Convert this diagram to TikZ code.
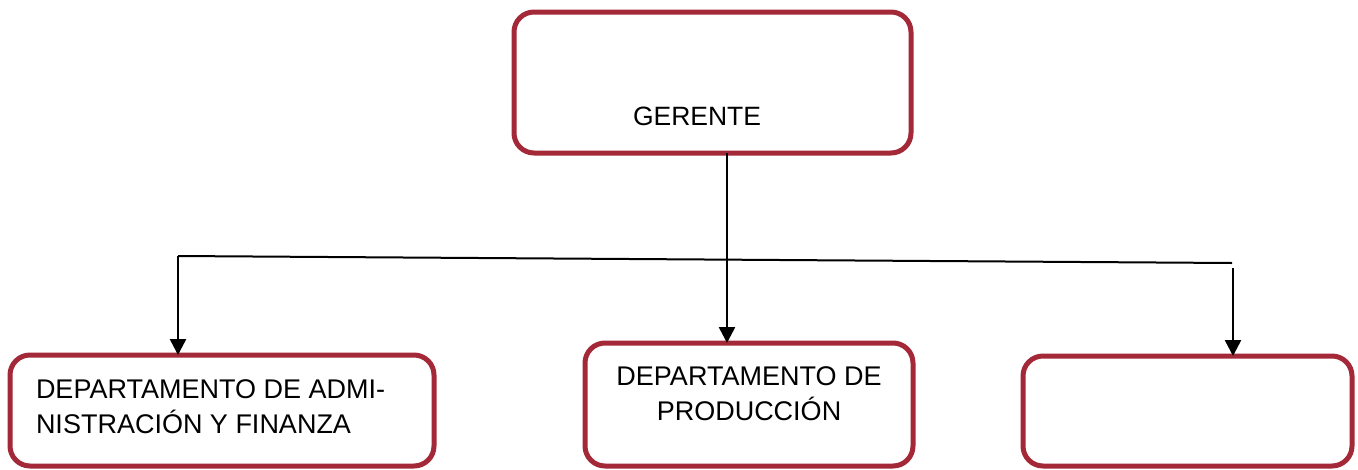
\documentclass[tikz,border=0pt]{standalone}
\usepackage{fontspec}
\setmainfont{Liberation Sans}
\usetikzlibrary{arrows.meta,calc}
\definecolor{boxred}{RGB}{163,41,56}
\tikzset{
  box/.style={draw=boxred, line width=5pt, rounded corners=20pt, fill=white, inner sep=0pt, outer sep=0pt},
  txt/.style={inner sep=0pt, outer sep=0pt, font=\fontsize{27}{35}\selectfont},
  conn/.style={line width=2pt, black},
  arr/.style={line width=2.6pt, black, -{Triangle[width=16pt,length=16pt]}}
}
\begin{document}
\begin{tikzpicture}[x=1pt,y=-1pt]
\useasboundingbox (0,0) rectangle (1358,469);
\node[box, minimum width=397pt, minimum height=141pt] (g) at (712.5,82.5) {};
\node[box, minimum width=424pt, minimum height=111pt] (l) at (222,410.5) {};
\node[box, minimum width=328pt, minimum height=123pt] (m) at (749,404.5) {};
\node[box, minimum width=329pt, minimum height=110pt] (r) at (1187.5,411) {};
\node[txt, anchor=base west, font=\fontsize{26.5}{35}\selectfont] (gt) at (633,125) {GERENTE};
\node[txt, anchor=base west] (lt1) at (36,398) {DEPARTAMENTO DE ADMI-};
\node[txt, anchor=base west] (lt2) at (36,433) {NISTRACIÓN Y FINANZA};
\node[txt, anchor=base] (mt1) at (749,385) {DEPARTAMENTO DE};
\node[txt, anchor=base] (mt2) at (749,420) {PRODUCCIÓN};
\coordinate (gs) at (727,153);
\coordinate (hl) at (178,256);
\coordinate (hr) at (1232,263);
\coordinate (rs) at (1233,268);
\draw[arr] (gs) -- (gs |- m.north);
\draw[conn] (hl) -- (hr);
\draw[arr] (hl) -- (hl |- l.north);
\draw[arr] (rs) -- (rs |- r.north);
\end{tikzpicture}
\end{document}
